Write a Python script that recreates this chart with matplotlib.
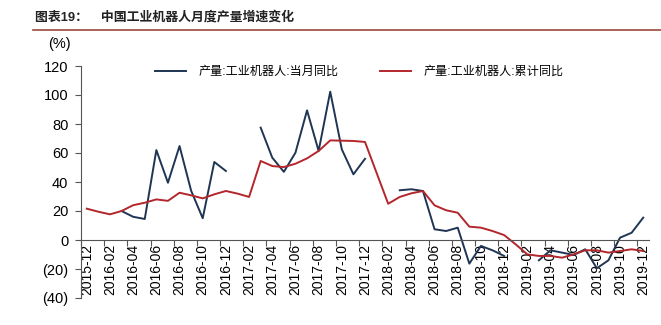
import numpy as np
import pandas as pd
import matplotlib
matplotlib.use("Agg")
import matplotlib.pyplot as plt
from matplotlib.lines import Line2D

plt.rcParams['font.family'] = ['Liberation Sans', 'Noto Sans CJK SC']

months = list(pd.date_range('2015-12', '2019-12', freq='MS').strftime('%Y-%m'))

nan = np.nan
# 产量:工业机器人:当月同比
monthly = [nan, nan, nan, 20, 16, 14.5, 62, 39.5, 64.8, 34, 15, 53.8, 47.6,
           nan, nan, 77.5, 56.8, 47, 60.2, 89.4, 61.4, 102.3, 62.5, 45.3, 56,
           nan, nan, 34.3, 35, 33.8, 7.4, 6.2, 8.5, -16.3, -4.1, -7.1, -11,
           nan, nan, -14, -7.1, -8.7, -10.3, -6.4, -19.5, -14, 1.6, 5, 15.4]
# 产量:工业机器人:累计同比
cumulative = [21.6, 19.5, 17.7, 20, 24, 25.7, 28, 27, 32.6, 30.8, 28.7, 31.5, 33.8,
              32, 29.7, 54.5, 51, 50.3, 52.6, 56.3, 61.4, 68.7, 68.5, 68.3, 67.6,
              46.3, 25, 29.7, 32.2, 33.8, 23.9, 20.5, 18.8, 9.2, 8.5, 6.2, 3.4,
              -3, -9.9, -11, -11, -12.2, -9.9, -7.1, -7.1, -8.7, -7.6, -6.4, -7.6]

yticks = [-40, -20, 0, 20, 40, 60, 80, 100, 120]

BLUE = '#1f3553'
RED = '#b3262c'
AXIS = '#555555'

fig = plt.figure(figsize=(6.61, 3.25), dpi=100)
ax = fig.add_axes([81 / 661, 1 - 298 / 325, (649 - 81) / 661, (298 - 66) / 325])

x = np.arange(len(months))
ax.plot(x, monthly, color=BLUE, lw=1.4, label='产量:工业机器人:当月同比')
ax.plot(x, cumulative, color=RED, lw=1.4, label='产量:工业机器人:累计同比')

ax.set_xlim(-0.5, len(months) - 0.5)
ax.set_ylim(-40, 120)

for s in ['top', 'right']:
    ax.spines[s].set_visible(False)
ax.spines['bottom'].set_position(('data', 0))
ax.spines['bottom'].set_color(AXIS)
ax.spines['left'].set_color(AXIS)

# tick marks between categories, labels on every second month
ax.set_xticks(np.arange(-0.5, len(months), 2))
ax.set_xticklabels([])
ax.tick_params(axis='x', which='major', direction='out', length=4, color=AXIS)
ax.set_xticks(x[::2], minor=True)
ax.set_xticklabels(months[::2], minor=True, rotation=90, fontsize=10)
ax.tick_params(axis='x', which='minor', length=0, pad=3)

ax.set_yticks(yticks)
ax.set_yticklabels([f'({-v})' if v < 0 else str(v) for v in yticks], fontsize=10.5)
ax.tick_params(axis='y', direction='out', length=4, color=AXIS, pad=5)

ax.legend(loc='upper left', bbox_to_anchor=(155 / 661, 1 - 66 / 325),
          bbox_transform=fig.transFigure, ncol=2, frameon=False, fontsize=8.7,
          handlelength=2.6, handletextpad=1.0, columnspacing=3.4,
          borderpad=0, borderaxespad=0)

fig.text(35 / 661, 1 - 17 / 325, '图表19：\u3000中国工业机器人月度产量增速变化',
         fontsize=9.3, fontweight='bold', va='center', color='#222222')
fig.add_artist(Line2D([33 / 661, 1.0], [1 - 30 / 325, 1 - 30 / 325],
                      transform=fig.transFigure, color='#9b4a3c', lw=1.2))
fig.text(48 / 661, 1 - 44 / 325, '(%)', fontsize=10.5, va='center')

fig.savefig('out.png', dpi=100)
